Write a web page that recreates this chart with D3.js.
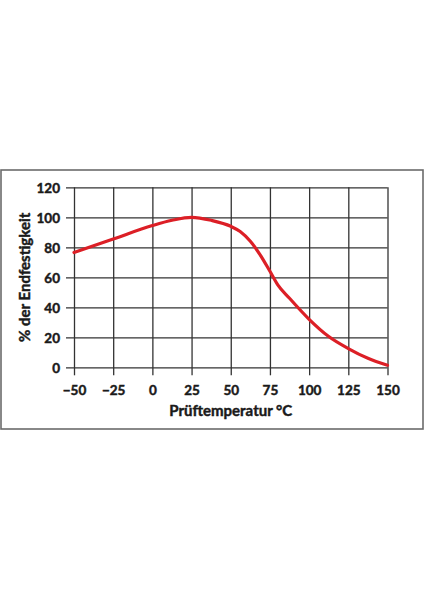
<!DOCTYPE html>
<html>
<head>
<meta charset="utf-8">
<script src="https://cdn.jsdelivr.net/npm/d3@7"></script>
<style>
  body { margin: 0; background: #fff; }
  text { font-family: Lato, "Liberation Sans", sans-serif; font-weight: 700; fill: #1a1a1a; stroke: #1a1a1a; stroke-width: 0.45px; }
</style>
</head>
<body>
<div id="container"></div>
<script>
// DATA
const temps = [-50, -25, 0, 12.5, 25, 37.5, 50, 56, 62.5, 68.75, 75, 80, 87.5, 100, 112.5, 125, 137.5, 150];
const strength = [76.5, 85.5, 94.5, 98, 100, 98, 94, 90.5, 84, 75, 64, 55, 46, 32, 20.5, 12.5, 6, 1.3];
const xTicks = [-50, -25, 0, 25, 50, 75, 100, 125, 150];
const yTicks = [0, 20, 40, 60, 80, 100, 120];
const xTitle = "Prüftemperatur °C";
const yTitle = "% der Endfestigkeit";

const data = temps.map((t, i) => ({ t: t, v: strength[i] }));

// CONSTANTS
const width = 424, height = 600;
const plot = { left: 74, right: 387.5, top: 187.3, bottom: 367.3 };
const tickLen = 8;

const svg = d3.select("#container")
  .append("svg")
  .attr("width", width)
  .attr("height", height);

// frame
svg.append("rect")
  .attr("x", 1)
  .attr("y", 170)
  .attr("width", 422)
  .attr("height", 259)
  .attr("fill", "none")
  .attr("stroke", "#6b6b6b")
  .attr("stroke-width", 1.6);

// SCALES
const xScale = d3.scaleLinear()
  .domain([-50, 150])
  .range([plot.left, plot.right]);

const yScale = d3.scaleLinear()
  .domain([0, 120])
  .range([plot.bottom, plot.top]);

// AXES (grid lines drawn as ticks)
const xAxis = d3.axisBottom(xScale)
  .tickValues(xTicks)
  .tickSizeInner(-(plot.bottom - plot.top) - tickLen)
  .tickSizeOuter(0)
  .tickPadding(10)
  .tickFormat(d => d < 0 ? "\u2212" + Math.abs(d) : d);

const xAxisGroup = svg.append("g")
  .attr("class", "xAxis")
  .attr("transform", `translate(0, ${plot.bottom + tickLen})`)
  .call(xAxis);

const yAxis = d3.axisLeft(yScale)
  .tickValues(yTicks)
  .tickSizeInner(-(plot.right - plot.left) - tickLen)
  .tickSizeOuter(0)
  .tickPadding(6);

const yAxisGroup = svg.append("g")
  .attr("class", "yAxis")
  .attr("transform", `translate(${plot.left - tickLen}, 0)`)
  .call(yAxis);

svg.selectAll(".domain").remove();
svg.selectAll(".tick line")
  .attr("stroke", "#333")
  .attr("stroke-width", 1.3);
svg.selectAll(".tick text")
  .attr("font-size", 13.5)
  .attr("font-family", "Lato, 'Liberation Sans', sans-serif")
  .attr("font-weight", 700)
  .attr("fill", "#1a1a1a");
yAxisGroup.selectAll(".tick text").attr("dy", "0.36em");

// axis titles
svg.append("text")
  .attr("x", (plot.left + plot.right) / 2)
  .attr("y", 416)
  .attr("text-anchor", "middle")
  .attr("font-size", 15)
  .text(xTitle);

svg.append("text")
  .attr("transform", `translate(30, ${(plot.top + plot.bottom) / 2}) rotate(-90)`)
  .attr("text-anchor", "middle")
  .attr("font-size", 15)
  .text(yTitle);

// CURVE
const line = d3.line()
  .x(d => xScale(d.t))
  .y(d => yScale(d.v))
  .curve(d3.curveMonotoneX);

svg.append("path")
  .datum(data)
  .attr("fill", "none")
  .attr("stroke", "#dc1f26")
  .attr("stroke-width", 3.2)
  .attr("stroke-linecap", "round")
  .attr("d", line);
</script>
</body>
</html>
